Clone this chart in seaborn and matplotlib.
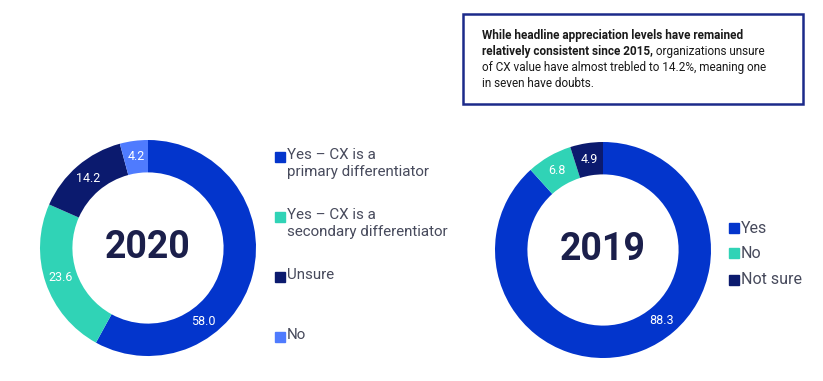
import numpy as np
import seaborn as sns
import matplotlib.pyplot as plt
from matplotlib.patches import Rectangle

# data
labels_2020 = ["Yes \u2013 CX is a\nprimary differentiator",
               "Yes \u2013 CX is a\nsecondary differentiator",
               "Unsure", "No"]
values_2020 = [58.0, 23.6, 14.2, 4.2]
labels_2019 = ["Yes", "No", "Not sure"]
values_2019 = [88.3, 6.8, 4.9]

note_lines = [
    [("While headline appreciation levels have remained", "bold")],
    [("relatively consistent since 2015,", "bold"), (" organizations unsure", "normal")],
    [("of CX value have almost trebled to 14.2%, meaning one", "normal")],
    [("in seven have doubts.", "normal")],
]

# style
W, H = 823, 381
blue, teal, navy, light = "#0335CC", "#30D3B6", "#0B1A6E", "#4F7BFE"
colors_2020 = [blue, teal, navy, light]
colors_2019 = [blue, teal, navy]
center_color = "#1B1F4B"
legend_color = "#474A5C"

sns.set_theme(style="white")
plt.rcParams['font.family'] = ['Roboto', 'DejaVu Sans']


def px(x, y):
    return x / W, 1 - y / H


def donut(cx, cy, r, values, colors, year, big_label_angle):
    ax = fig.add_axes([(cx - r) / W, (H - cy - r) / H, 2 * r / W, 2 * r / H])
    wedges, _ = ax.pie(values, colors=colors, startangle=90, counterclock=False,
                       wedgeprops=dict(width=0.3, edgecolor="none"))
    ax.set_xlim(-1, 1)
    ax.set_ylim(-1, 1)
    ax.set_aspect("equal")
    for i, (w, v) in enumerate(zip(wedges, values)):
        ang = np.deg2rad(big_label_angle if i == 0 else (w.theta1 + w.theta2) / 2)
        ax.text(0.85 * np.cos(ang), 0.85 * np.sin(ang), f"{v:.1f}", color="white",
                fontsize=9, ha="center", va="center")
    ax.text(0, 0, year, fontsize=27, fontweight="bold", color=center_color,
            ha="center", va="center")
    return ax


fig = plt.figure(figsize=(W / 100, H / 100), dpi=100)

donut(148, 248, 108, values_2020, colors_2020, "2020", -53)
donut(603, 250, 108, values_2019, colors_2019, "2019", -50)

# legend 2020
for lab, col, y in zip(labels_2020, colors_2020, [157, 217, 277, 337]):
    fig.patches.append(Rectangle(px(275, y + 5), 10 / W, 10 / H, color=col,
                                 transform=fig.transFigure, figure=fig))
    fig.text(*px(287, y - 9), lab, fontsize=10.9, color=legend_color,
             va="top", ha="left", linespacing=1.3)

# legend 2019
for lab, col, y in zip(labels_2019, colors_2019, [228, 253, 280]):
    fig.patches.append(Rectangle(px(729, y + 5), 10 / W, 10 / H, color=col,
                                 transform=fig.transFigure, figure=fig))
    fig.text(*px(741, y), lab, fontsize=11.5, color=legend_color,
             va="center", ha="left")

# note box
fig.patches.append(Rectangle(px(463, 104), 340 / W, 90 / H, fill=False,
                             edgecolor="#1C2A8A", lw=1.8,
                             transform=fig.transFigure, figure=fig))
renderer = fig.canvas.get_renderer()
for i, parts in enumerate(note_lines):
    x = 482
    y = 35 + i * 16.3
    for txt, weight in parts:
        t = fig.text(*px(x, y), txt, fontsize=8.5, fontweight=weight,
                     color="#1A1A1A", va="center", ha="left")
        x += t.get_window_extent(renderer).width

fig.savefig("out.png", dpi=100)
